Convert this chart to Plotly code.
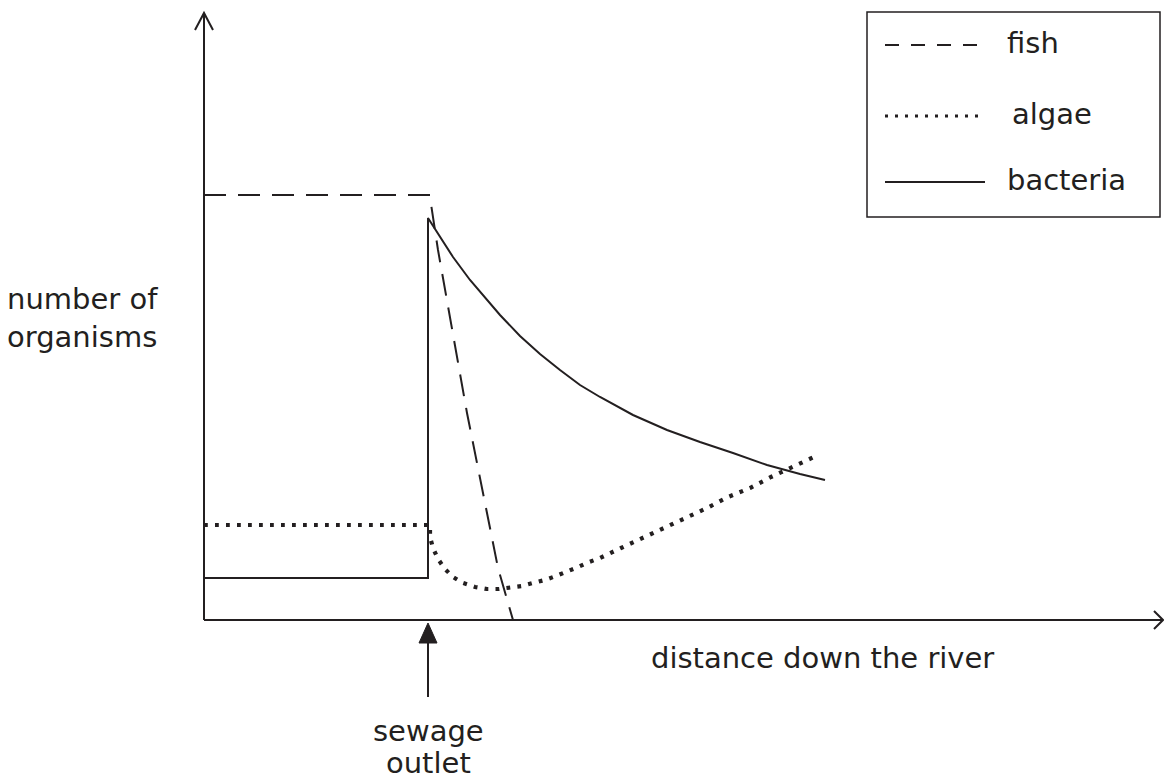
import plotly.graph_objects as go

INK = "#231f20"
FONT = "DejaVu Sans"

# ---- data (arbitrary units) ----
fish_x = [0, 22.6, 22.7, 23.4, 26.3, 29.4, 30.9]
fish_y = [42.5, 42.5, 41.6, 37.0, 20.7, 5.2, 0.0]

bacteria_x = [0, 22.4, 22.4, 22.9, 23.9, 24.9, 26.6, 28.1, 29.6, 31.6, 33.6,
              35.6, 37.6, 39.6, 42.9, 46.3, 49.6, 52.9, 56.3, 59.6, 62.1]
bacteria_y = [4.2, 4.2, 40.2, 39.4, 37.8, 36.3, 34.0, 32.2, 30.5, 28.4, 26.6,
              25.0, 23.5, 22.3, 20.5, 19.0, 17.8, 16.7, 15.5, 14.6, 14.0]

algae_x = [0, 22.6, 22.6, 22.9, 23.4, 24.1, 24.9, 25.9, 27.1, 28.3, 29.5, 30.6,
           31.8, 32.9, 34.1, 35.2, 36.3, 37.4, 38.5, 39.6, 41.7, 43.9, 46.0,
           48.2, 50.3, 52.4, 54.6, 56.7, 58.8, 61.2]
algae_y = [9.5, 9.5, 8.3, 7.2, 6.1, 5.1, 4.3, 3.7, 3.3, 3.1, 3.1, 3.2,
           3.4, 3.7, 4.0, 4.4, 4.8, 5.3, 5.8, 6.2, 7.2, 8.2, 9.2,
           10.2, 11.2, 12.3, 13.2, 14.3, 15.3, 16.4]

series_names = ["fish", "algae", "bacteria"]
x_label = "distance down the river"
y_label = ["number of", "organisms"]
marker_label = ["sewage", "outlet"]
outlet_x = 22.4

# ---- geometry helpers (layout only, page pixels) ----
PAGE_W, PAGE_H = 1164, 780
X0, Y0 = 204, 620      # page pixel of the data origin
SC = 10.0              # pixels per data unit


def dx(px):
    return (px - X0) / SC


def dy(py):
    return (Y0 - py) / SC


STYLES = {
    "fish": dict(color=INK, width=2, dash="22px,12px"),
    "algae": dict(color=INK, width=4.2, dash="3.8px,7.2px"),
    "bacteria": dict(color=INK, width=2),
}
LEGEND_STYLES = dict(STYLES)
LEGEND_STYLES["fish"] = dict(color=INK, width=2, dash="14px,12px")
LEGEND_STYLES["algae"] = dict(color=INK, width=3.2, dash="3px,7px")

fig = go.Figure()
fig.add_trace(go.Scatter(x=fish_x, y=fish_y, mode="lines", name="fish",
                         line=STYLES["fish"], showlegend=False))
fig.add_trace(go.Scatter(x=algae_x, y=algae_y, mode="lines", name="algae",
                         line=STYLES["algae"], showlegend=False))
fig.add_trace(go.Scatter(x=bacteria_x, y=bacteria_y, mode="lines", name="bacteria",
                         line=STYLES["bacteria"], showlegend=False))

shapes = []
# axes
shapes.append(dict(type="line", x0=0, y0=0, x1=0, y1=dy(14), line=dict(color=INK, width=2)))
shapes.append(dict(type="line", x0=0, y0=0, x1=dx(1162), y1=0, line=dict(color=INK, width=2)))
# axis arrow chevrons
shapes.append(dict(type="path",
                   path=f"M {dx(195)},{dy(30)} L {dx(204)},{dy(13)} L {dx(213)},{dy(30)}",
                   line=dict(color=INK, width=2)))
shapes.append(dict(type="path",
                   path=f"M {dx(1154)},{dy(611)} L {dx(1163)},{dy(620)} L {dx(1154)},{dy(629)}",
                   line=dict(color=INK, width=2)))
# sewage outlet arrow
ox = X0 + outlet_x * SC
shapes.append(dict(type="line", x0=dx(ox), y0=dy(640), x1=dx(ox), y1=dy(697),
                   line=dict(color=INK, width=2)))
shapes.append(dict(type="path",
                   path=f"M {dx(ox-9)},{dy(643)} L {dx(ox)},{dy(623)} L {dx(ox+9)},{dy(643)} Z",
                   fillcolor=INK, line=dict(color=INK, width=1)))
# legend box
shapes.append(dict(type="rect", x0=dx(867), y0=dy(12), x1=dx(1160), y1=dy(217),
                   line=dict(color=INK, width=1.5), fillcolor="white", layer="below"))
legend_rows = {"fish": 45, "algae": 116, "bacteria": 182}
legend_text_x = {"fish": 1008, "algae": 1013, "bacteria": 1008}
for name in series_names:
    py = legend_rows[name]
    shapes.append(dict(type="line", x0=dx(885), y0=dy(py), x1=dx(985), y1=dy(py),
                       line=LEGEND_STYLES[name]))

annotations = []


def text(px, py, s, anchor="left", size=29):
    annotations.append(dict(x=dx(px), y=dy(py), xref="x", yref="y", text=s,
                            showarrow=False, xanchor=anchor, yanchor="middle",
                            font=dict(family=FONT, size=size, color=INK)))


for name in series_names:
    text(legend_text_x[name] - 3, legend_rows[name] - 2, name)
text(5, 299, y_label[0])
text(5, 337, y_label[1])
text(822, 658, x_label, anchor="center")
text(ox, 731, marker_label[0], anchor="center")
text(ox, 763, marker_label[1], anchor="center")

fig.update_layout(
    width=PAGE_W, height=PAGE_H,
    margin=dict(l=0, r=0, t=0, b=0),
    paper_bgcolor="white", plot_bgcolor="white",
    xaxis=dict(range=[dx(0), dx(PAGE_W)], visible=False, fixedrange=True),
    yaxis=dict(range=[dy(PAGE_H), dy(0)], visible=False, fixedrange=True),
    shapes=shapes, annotations=annotations, showlegend=False,
)

fig.write_html(
    "out.html",
    config={"displayModeBar": False, "staticPlot": True},
    post_script="document.body.style.margin='0';document.body.style.overflow='hidden';",
)
